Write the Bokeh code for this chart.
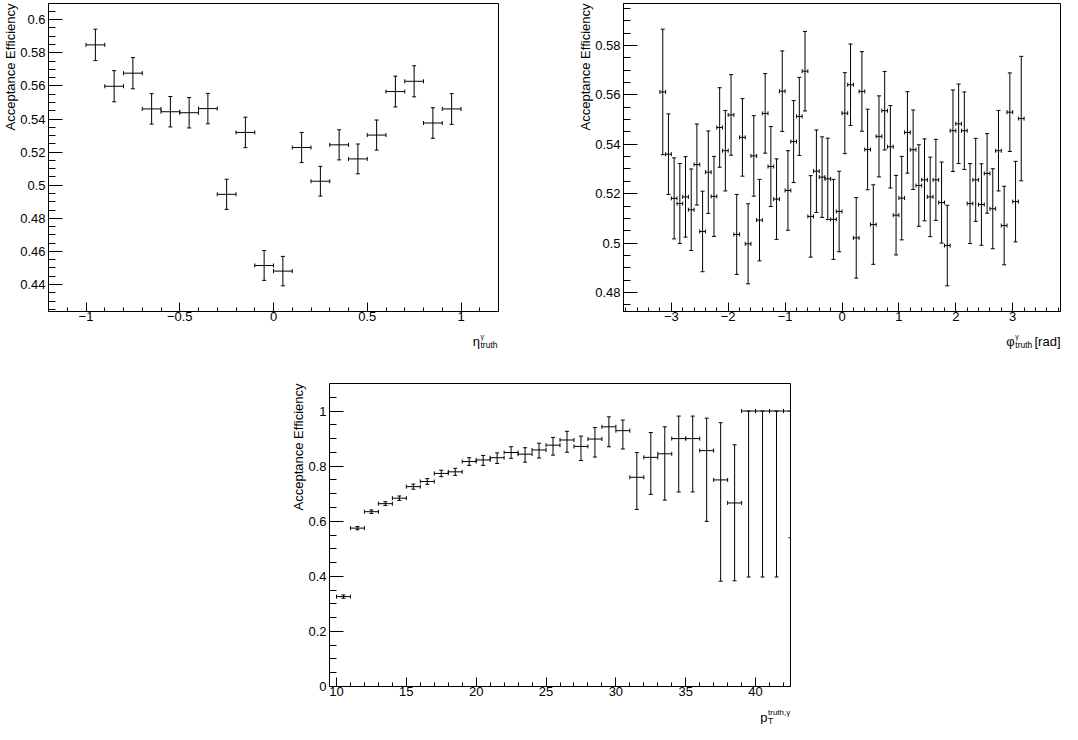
import math
import numpy as np
from bokeh.plotting import figure
from bokeh.models import Range1d, FixedTicker, Label, Spacer, Title
from bokeh.layouts import row, column
from bokeh.embed import file_html
from bokeh.resources import INLINE

# ---------------- data: eta panel ----------------
eta_centers = [-0.95, -0.85, -0.75, -0.65, -0.55, -0.45, -0.35, -0.25, -0.15, -0.05,
               0.05, 0.15, 0.25, 0.35, 0.45, 0.55, 0.65, 0.75, 0.85, 0.95]
eta_eff = [0.5848, 0.5598, 0.5677, 0.5461, 0.5444, 0.5438, 0.5463, 0.4945, 0.5319, 0.4515,
           0.4481, 0.5228, 0.5024, 0.5244, 0.5159, 0.5303, 0.5566, 0.5628, 0.5376, 0.5461]
eta_err = [0.0095, 0.0094, 0.0094, 0.0092, 0.0092, 0.0092, 0.0092, 0.0091, 0.0092, 0.0090,
           0.0089, 0.0091, 0.0090, 0.0091, 0.0090, 0.0091, 0.0093, 0.0094, 0.0092, 0.0093]
eta_halfwidth = 0.05

# ---------------- data: phi panel ----------------
phi_centers = [-3.15, -3.05, -2.95, -2.85, -2.75, -2.65, -2.55, -2.45, -2.35, -2.25,
               -2.15, -2.05, -1.95, -1.85, -1.75, -1.65, -1.55, -1.45, -1.35, -1.25,
               -1.15, -1.05, -0.95, -0.85, -0.75, -0.65, -0.55, -0.45, -0.35, -0.25,
               -0.15, -0.05, 0.05, 0.15, 0.25, 0.35, 0.45, 0.55, 0.65, 0.75,
               0.85, 0.95, 1.05, 1.15, 1.25, 1.35, 1.45, 1.55, 1.65, 1.75,
               1.85, 1.95, 2.05, 2.15, 2.25, 2.35, 2.45, 2.55, 2.65, 2.75,
               2.85, 2.95, 3.05, 3.15]
phi_eff = [0.5612, 0.5360, 0.5181, 0.5160, 0.5187, 0.5135, 0.5318, 0.5047, 0.5287, 0.5189,
           0.5468, 0.5374, 0.5519, 0.5035, 0.5428, 0.4997, 0.5353, 0.5093, 0.5525, 0.5310,
           0.5178, 0.5615, 0.5213, 0.5411, 0.5513, 0.5696, 0.5108, 0.5291, 0.5267, 0.5260,
           0.5096, 0.5128, 0.5526, 0.5641, 0.5021, 0.5614, 0.5379, 0.5075, 0.5432, 0.5536,
           0.5390, 0.5113, 0.5182, 0.5448, 0.5378, 0.5233, 0.5256, 0.5187, 0.5256, 0.5164,
           0.4990, 0.5455, 0.5483, 0.5455, 0.5160, 0.5256, 0.5156, 0.5282, 0.5139, 0.5374,
           0.5071, 0.5530, 0.5168, 0.5504]
phi_err = [0.0254, 0.0163, 0.0164, 0.0162, 0.0163, 0.0165, 0.0164, 0.0163, 0.0167, 0.0162,
           0.0161, 0.0163, 0.0163, 0.0162, 0.0157, 0.0162, 0.0163, 0.0165, 0.0161, 0.0162,
           0.0163, 0.0163, 0.0161, 0.0166, 0.0158, 0.0161, 0.0165, 0.0167, 0.0163, 0.0165,
           0.0162, 0.0163, 0.0164, 0.0165, 0.0163, 0.0161, 0.0163, 0.0161, 0.0164, 0.0159,
           0.0167, 0.0161, 0.0169, 0.0165, 0.0161, 0.0165, 0.0166, 0.0161, 0.0164, 0.0164,
           0.0163, 0.0165, 0.0161, 0.0157, 0.0162, 0.0168, 0.0165, 0.0161, 0.0162, 0.0163,
           0.0159, 0.0159, 0.0163, 0.0252]
phi_halfwidth = 0.05

# ---------------- data: pT panel ----------------
pt_centers = [10.5, 11.5, 12.5, 13.5, 14.5, 15.5, 16.5, 17.5, 18.5, 19.5, 20.5,
              21.5, 22.5, 23.5, 24.5, 25.5, 26.5, 27.5, 28.5, 29.5, 30.5, 31.5,
              32.5, 33.5, 34.5, 35.5, 36.5, 37.5, 38.5, 39.5, 40.5, 41.5, 42.5]
pt_eff = [0.3263, 0.5750, 0.6346, 0.6637, 0.6836, 0.7256, 0.7443, 0.7735, 0.7793, 0.8167, 0.8225,
          0.8307, 0.8494, 0.8435, 0.8587, 0.8762, 0.8949, 0.8716, 0.8984, 0.9428, 0.9288, 0.7595,
          0.8319, 0.8447, 0.9000, 0.9000, 0.8564, 0.7500, 0.6663, 1.0, 1.0, 1.0, 1.0]
pt_err_up = [0.006, 0.006, 0.0065, 0.007, 0.008, 0.0093, 0.0105, 0.0117, 0.0128, 0.014, 0.0163,
             0.0175, 0.021, 0.0234, 0.0245, 0.028, 0.0315, 0.0374, 0.042, 0.0362, 0.0385, 0.0899,
             0.0899, 0.0981, 0.0817, 0.0817, 0.1179, 0.2078, 0.2113, 0.0, 0.0, 0.0, 0.0]
pt_err_down = [0.006, 0.006, 0.0065, 0.007, 0.008, 0.0093, 0.0105, 0.0117, 0.0128, 0.014, 0.0198,
               0.021, 0.021, 0.0292, 0.0292, 0.0362, 0.0444, 0.0514, 0.0654, 0.0724, 0.0666, 0.1168,
               0.1343, 0.1681, 0.1938, 0.1938, 0.2569, 0.3678, 0.2826, 0.6025, 0.6025, 0.6025, 0.46]
pt_halfwidth = 0.5

# ---------------- ticks ----------------
eta_xticks = [-1, -0.5, 0, 0.5, 1]
eta_xlabels = ["\u22121", "\u22120.5", "0", "0.5", "1"]
eta_yticks = [0.44, 0.46, 0.48, 0.5, 0.52, 0.54, 0.56, 0.58, 0.6]
eta_ylabels = ["0.44", "0.46", "0.48", "0.5", "0.52", "0.54", "0.56", "0.58", "0.6"]

phi_xticks = [-3, -2, -1, 0, 1, 2, 3]
phi_xlabels = ["\u22123", "\u22122", "\u22121", "0", "1", "2", "3"]
phi_yticks = [0.48, 0.5, 0.52, 0.54, 0.56, 0.58]
phi_ylabels = ["0.48", "0.5", "0.52", "0.54", "0.56", "0.58"]

pt_xticks = [10, 15, 20, 25, 30, 35, 40]
pt_xlabels = ["10", "15", "20", "25", "30", "35", "40"]
pt_yticks = [0, 0.2, 0.4, 0.6, 0.8, 1]
pt_ylabels = ["0", "0.2", "0.4", "0.6", "0.8", "1"]

YTITLE = "Acceptance Efficiency"
FONT = "Liberation Sans"


def minor(lo, hi, step):
    n = int(round((hi - lo) / step))
    return [round(lo + i * step, 4) for i in range(n + 1)]


def make_fig(width, height, xr, yr, bl, br, bt, bb):
    p = figure(width=width, height=height, x_range=Range1d(*xr), y_range=Range1d(*yr),
               output_backend="svg", toolbar_location=None, tools="",
               min_border_left=bl, min_border_right=br, min_border_top=bt, min_border_bottom=bb)
    p.grid.visible = False
    p.outline_line_color = "black"
    p.outline_line_width = 1
    p.outline_line_alpha = 1
    p.background_fill_color = "white"
    p.border_fill_color = "white"
    # y-axis title, top-aligned as in ROOT
    p.add_layout(Title(text=YTITLE, align="right", text_font=FONT, text_font_size="13px",
                       text_font_style="normal", text_color="black", standoff=0, offset=0),
                 "left")
    return p


def make_strip(width, height):
    s = figure(width=width, height=height, x_range=Range1d(0, 1), y_range=Range1d(0, 1),
               output_backend="svg", toolbar_location=None, tools="",
               x_axis_location=None, y_axis_location=None, min_border=0,
               min_border_left=0, min_border_right=0, min_border_top=0, min_border_bottom=0)
    s.grid.visible = False
    s.outline_line_color = None
    s.background_fill_color = "white"
    s.border_fill_color = "white"
    return s


def style_axis(ax, major, labels, minors, tin, min_in, standoff):
    ax.ticker = FixedTicker(ticks=major, minor_ticks=minors)
    ax.major_label_overrides = {t: l for t, l in zip(major, labels)}
    ax.major_tick_in = tin
    ax.major_tick_out = 0
    ax.minor_tick_in = min_in
    ax.minor_tick_out = 0
    ax.axis_line_color = "black"
    ax.axis_line_width = 1
    ax.major_tick_line_color = "black"
    ax.minor_tick_line_color = "black"
    ax.major_label_text_font = FONT
    ax.major_label_text_font_size = "13px"
    ax.major_label_text_color = "black"
    ax.major_label_standoff = standoff


def draw_errors(p, x, y, xe, edn, eup, cap=4):
    x = np.asarray(x, dtype=float)
    y = np.asarray(y, dtype=float)
    edn = np.asarray(edn, dtype=float)
    eup = np.asarray(eup, dtype=float)
    p.segment(x0=x - xe, y0=y, x1=x + xe, y1=y, line_color="black", line_width=1)
    p.segment(x0=x, y0=y - edn, x1=x, y1=y + eup, line_color="black", line_width=1)
    p.scatter(x=np.concatenate([x, x]), y=np.concatenate([y - edn, y + eup]),
              marker="dash", size=cap, line_color="black", line_width=1)
    p.scatter(x=np.concatenate([x - xe, x + xe]), y=np.concatenate([y, y]),
              marker="dash", angle=math.pi / 2, size=cap, line_color="black", line_width=1)


def lab(p, text, x, y, size, align="left", baseline="alphabetic"):
    p.add_layout(Label(x=x, y=y, x_units="screen", y_units="screen", text=text,
                       text_font=FONT, text_font_size=size, text_color="black",
                       text_align=align, text_baseline=baseline))


# ---------------- top row ----------------
ROW_A_H = 327
p1 = make_fig(575, ROW_A_H, (-1.2, 1.2), (0.4237, 0.6098), 47, 77, 3, 16)
style_axis(p1.xaxis[0], eta_xticks, eta_xlabels, minor(-1.1, 1.1, 0.1), 9, 4, 0)
style_axis(p1.yaxis[0], eta_yticks, eta_ylabels, minor(0.425, 0.61, 0.005), 14, 7, 3)
draw_errors(p1, eta_centers, eta_eff, eta_halfwidth, eta_err, eta_err)

p2 = make_fig(487, ROW_A_H, (-3.84, 3.84), (0.4723, 0.5970), 46, 2, 3, 16)
style_axis(p2.xaxis[0], phi_xticks, phi_xlabels, minor(-3.8, 3.8, 0.2), 9, 4, 0)
style_axis(p2.yaxis[0], phi_yticks, phi_ylabels, minor(0.475, 0.595, 0.005), 14, 7, 3)
draw_errors(p2, phi_centers, phi_eff, phi_halfwidth, phi_err, phi_err)

# x-axis titles of the top row (strip spans y = 327 .. 350)
XS_TOP_H = 23
xs_top = make_strip(1062, XS_TOP_H)
lab(xs_top, "\u03b7", 479.5, 9, "13px", align="right")
lab(xs_top, "\u03b3", 480.0, 14, "7px")
lab(xs_top, "truth", 480.0, 5.5, "8.5px")
lab(xs_top, "\u03c6", 1014.3, 9, "13px", align="right")
lab(xs_top, "\u03b3", 1014.8, 14, "7px")
lab(xs_top, "truth", 1014.8, 5.5, "8.5px")
lab(xs_top, "[rad]", 1060, 9, "13px", align="right")

# ---------------- bottom row ----------------
ROW_C_H = 351
p3 = make_fig(520, ROW_C_H, (9.5, 42.5), (0.0, 1.1), 47, 12, 33, 15)
style_axis(p3.xaxis[0], pt_xticks, pt_xlabels, minor(10, 42, 1), 9, 4, 0)
style_axis(p3.yaxis[0], pt_yticks, pt_ylabels, minor(0, 1.05, 0.05), 14, 7, 3)
draw_errors(p3, pt_centers, pt_eff, pt_halfwidth, pt_err_down, pt_err_up)

# x-axis title of the bottom panel (strip spans y = 701 .. 724)
XS_BOT_H = 23
xs_bot = make_strip(1062, XS_BOT_H)
lab(xs_bot, "p", 767, 7, "13px", align="right")
lab(xs_bot, "truth,\u03b3", 767.5, 12.5, "8px")
lab(xs_bot, "T", 767.5, 4, "8.5px")

layout = column(
    row(p1, p2),
    xs_top,
    row(Spacer(width=282, height=ROW_C_H), p3),
    xs_bot,
)

with open("out.html", "w") as f:
    f.write(file_html(layout, INLINE))
